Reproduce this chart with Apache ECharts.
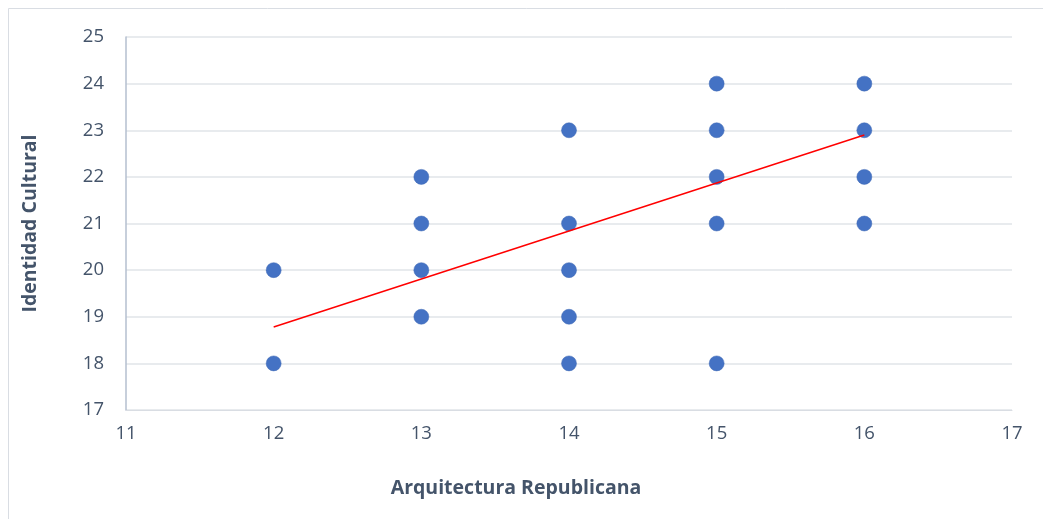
<!DOCTYPE html>
<html><head><meta charset="utf-8">
<script src="https://cdn.jsdelivr.net/npm/echarts@6/dist/echarts.min.js"></script>
<style>html,body{margin:0;padding:0;background:#fff}#c{width:1043px;height:519px}</style>
</head><body><div id="c"></div>
<script>
const xValues = [12,12,13,13,13,13,14,14,14,14,14,15,15,15,15,15,16,16,16,16];
const yValues = [20,18,22,21,20,19,23,21,20,19,18,24,23,22,21,18,24,23,22,21];
const trendX = [12, 16];
const trendY = [18.78, 22.9];
const xTitle = 'Arquitectura Republicana';
const yTitle = 'Identidad Cultural';

const pts = xValues.map((x,i)=>[x, yValues[i]]);
const trend = trendX.map((x,i)=>[x, trendY[i]]);
const txt = '#44546a';
const font = '"Open Sans", "Noto Sans", sans-serif';
const chart = echarts.init(document.getElementById('c'), null, {renderer:'canvas'});
chart.setOption({
  animation:false,
  backgroundColor:'#fff',
  graphic:[{type:'rect', shape:{x:8.5,y:8.5,width:1200,height:700}, style:{fill:'none', stroke:'#d9dde3', lineWidth:1}, silent:true}],
  grid:{left:126, right:31, top:37, bottom:109},
  xAxis:{type:'value', min:11, max:17, interval:1,
    name:xTitle, nameLocation:'middle', nameGap:68,
    nameTextStyle:{color:txt, fontSize:19.5, fontWeight:'bold', fontFamily:font, padding:[0,106,0,0]},
    axisLine:{show:true, lineStyle:{color:'#d9dde3', width:1}}, axisTick:{show:false},
    splitLine:{show:false},
    axisLabel:{color:txt, fontSize:18.5, fontFamily:font, margin:14}},
  yAxis:{type:'value', min:17, max:25, interval:1,
    name:yTitle, nameLocation:'middle', nameGap:86, nameRotate:90,
    nameTextStyle:{color:txt, fontSize:19.5, fontWeight:'bold', fontFamily:font},
    axisLine:{show:true, lineStyle:{color:'#b4bfcf', width:1.5}}, axisTick:{show:false},
    splitLine:{show:true, lineStyle:{color:'#e1e4e9', width:1.5}},
    axisLabel:{color:txt, fontSize:18.5, fontFamily:font, margin:22}},
  series:[
    {type:'scatter', data:pts, symbolSize:15, itemStyle:{color:'#4472c4', opacity:1, borderColor:'#3f69b5', borderWidth:0.5}},
    {type:'line', data:trend, showSymbol:false, symbol:'none', lineStyle:{color:'#ff0000', width:1.5}, z:3}
  ]
});
</script></body></html>
